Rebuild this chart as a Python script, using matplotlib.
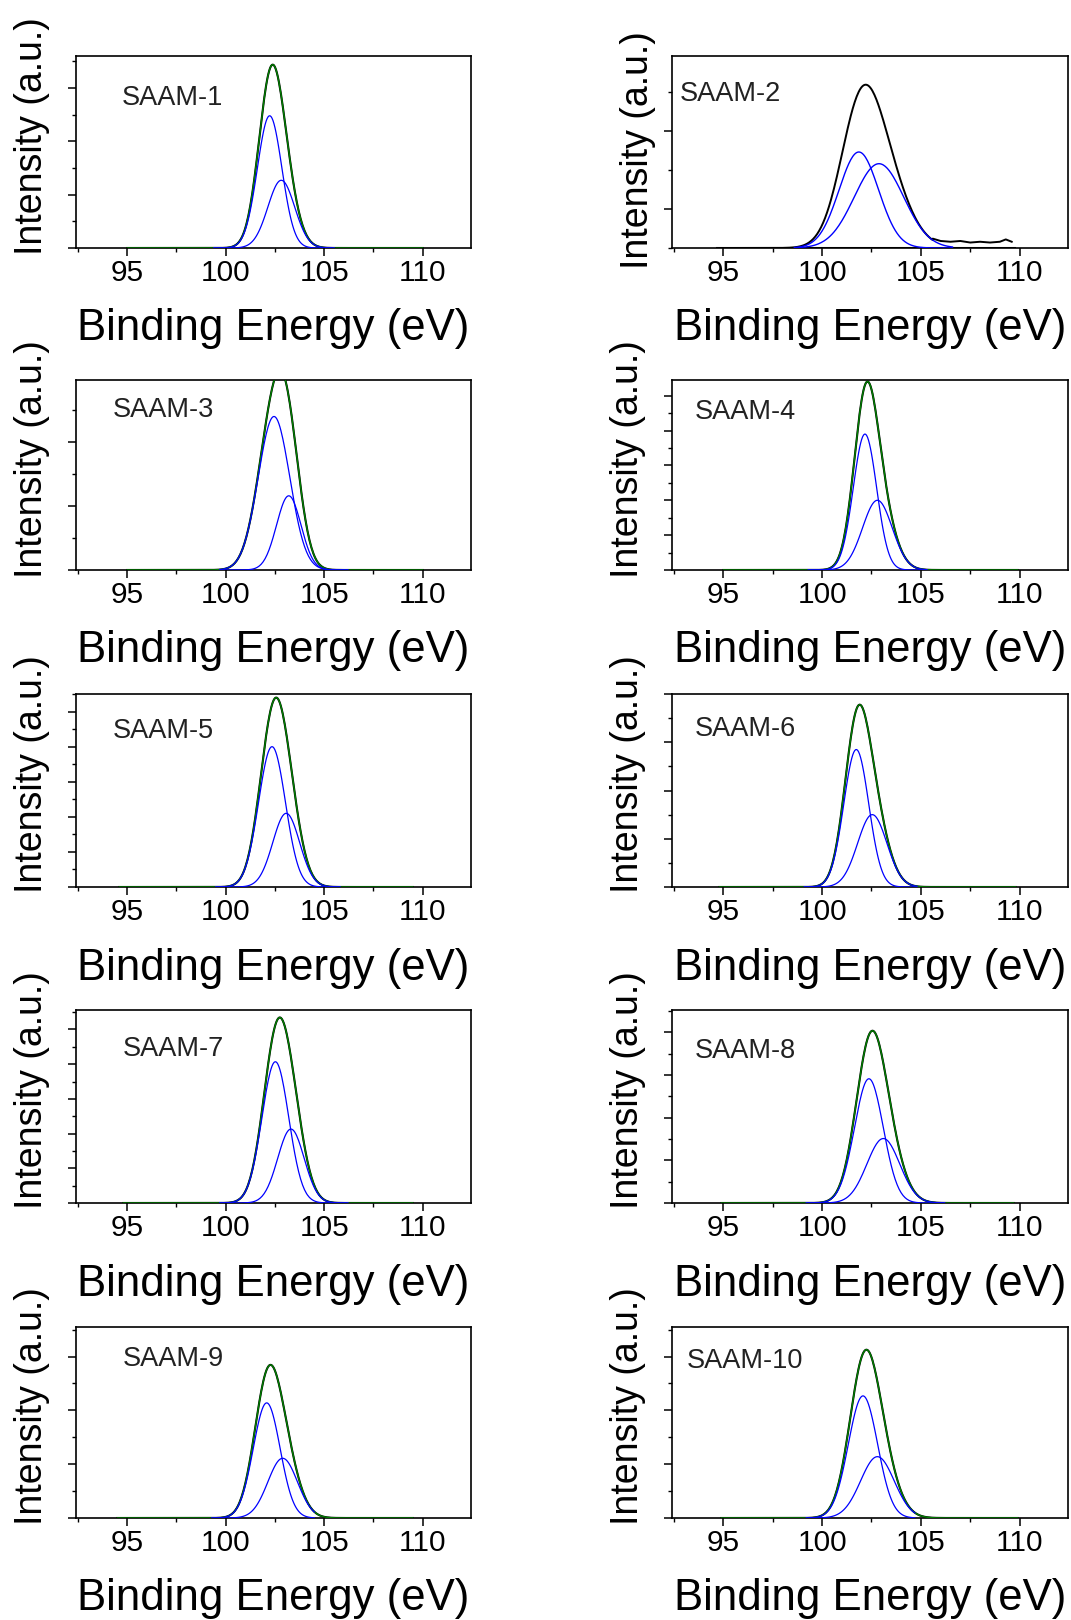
import numpy as np
import matplotlib.pyplot as plt
from matplotlib.ticker import MultipleLocator

plt.rcParams['font.family'] = ['Liberation Sans', 'DejaVu Sans']

# Si 2p fits for each sample
samples = ["SAAM-1", "SAAM-2", "SAAM-3", "SAAM-4", "SAAM-5",
           "SAAM-6", "SAAM-7", "SAAM-8", "SAAM-9", "SAAM-10"]

# lower binding energy component (centre eV, height, gaussian sigma eV)
peak1_center = [102.23, 101.86, 102.45, 102.17, 102.35, 101.73, 102.52, 102.37, 102.08, 102.07]
peak1_height = [2.48, 1.23, 2.40, 3.90, 4.00, 2.85, 4.07, 2.91, 2.14, 2.27]
peak1_sigma = [0.62, 1.00, 0.80, 0.59, 0.68, 0.63, 0.68, 0.73, 0.68, 0.74]

# higher binding energy component
peak2_center = [102.82, 102.88, 103.20, 102.80, 103.07, 102.54, 103.31, 103.10, 102.89, 102.80]
peak2_height = [1.27, 1.08, 1.16, 2.00, 2.10, 1.50, 2.13, 1.51, 1.11, 1.14]
peak2_sigma = [0.68, 1.25, 0.62, 0.75, 0.68, 0.74, 0.67, 0.83, 0.75, 0.85]

# energy ranges of the scan and of the fit
scan_lo = [95.0, 94.7, 95.0, 95.0, 94.6, 94.8, 94.8, 94.9, 94.5, 94.9]
scan_hi = [110.0, 109.7, 110.0, 109.9, 109.5, 109.8, 109.5, 109.7, 109.5, 109.9]
fit_lo = [99.4, 98.6, 99.7, 99.3, 99.5, 99.1, 99.7, 99.2, 99.3, 99.2]
fit_hi = [105.5, 106.6, 106.2, 105.3, 105.8, 104.8, 106.2, 106.2, 104.5, 104.7]

# intensity axis limits (arbitrary units)
y_bottom = [0, 0.5, 0, 0, 0, 0, 0, 0, 0, 0]
y_top = [3.6, 2.96, 2.97, 5.45, 5.5, 4.0, 5.56, 4.52, 3.55, 3.55]

# SAAM-2 raw data tail above the fit (eV, intensity above baseline)
tail_energy = [105.6, 106.0, 106.5, 107.0, 107.5, 108.0, 108.5, 109.0, 109.3, 109.6]
tail_counts = [0.12, 0.09, 0.08, 0.09, 0.07, 0.08, 0.07, 0.08, 0.11, 0.08]

xticks = [95, 100, 105, 110]

# where the sample name sits inside each panel (axes fraction)
label_x = [0.116, 0.02, 0.094, 0.058, 0.094, 0.058, 0.119, 0.058, 0.119, 0.038]
label_y = [0.78, 0.80, 0.84, 0.83, 0.81, 0.82, 0.80, 0.79, 0.83, 0.82]

row_px = [(56, 248), (380, 570), (694, 887), (1010, 1203), (1327, 1518)]
col_px = [(76, 471), (672, 1068)]
W, H = 1071, 1620


def gauss(x, c, h, s):
    return h * np.exp(-(x - c) ** 2 / (2 * s ** 2))


fig = plt.figure(figsize=(W / 100, H / 100), dpi=100)

for i, name in enumerate(samples):
    row, col = i // 2, i % 2
    top, bot = row_px[row]
    left, right = col_px[col]
    ax = fig.add_axes([left / W, 1 - bot / H, (right - left) / W, (bot - top) / H])

    base = y_bottom[i]
    e = np.arange(scan_lo[i], scan_hi[i] + 0.001, 0.05)
    ef = np.arange(fit_lo[i], fit_hi[i] + 0.001, 0.05)
    g1 = gauss(ef, peak1_center[i], peak1_height[i], peak1_sigma[i])
    g2 = gauss(ef, peak2_center[i], peak2_height[i], peak2_sigma[i])
    total = gauss(e, peak1_center[i], peak1_height[i], peak1_sigma[i]) + \
        gauss(e, peak2_center[i], peak2_height[i], peak2_sigma[i])

    if i == 1:
        # SAAM-2 has only the raw data (black) plus background line
        ax.plot([scan_lo[i], scan_hi[i]], [base, base], color='black', lw=2.2, zorder=2)
        keep = e < tail_energy[0]
        data_x = np.concatenate([e[keep], tail_energy])
        data_y = np.concatenate([total[keep], tail_counts]) + base
        ax.plot(data_x, data_y, color='black', lw=1.4, zorder=3)
        ax.plot(ef, g1 + base, color='#0000ff', lw=1.0, zorder=4)
        ax.plot(ef, g2 + base, color='#0000ff', lw=1.0, zorder=4)
    else:
        ax.plot(e, total + base, color='black', lw=1.5, zorder=2)
        ax.plot(e, total + base, color='#008000', lw=1.0, zorder=3)
        ax.plot(ef, g1 + base, color='#0000ff', lw=0.9, zorder=4)
        ax.plot(ef, g2 + base, color='#0000ff', lw=0.9, zorder=4)

    ax.set_xlim(92.4, 112.45)
    ax.set_ylim(base, y_top[i])
    ax.set_xticks(xticks)
    ax.xaxis.set_minor_locator(MultipleLocator(2.5))
    ax.yaxis.set_major_locator(MultipleLocator(1))
    ax.yaxis.set_minor_locator(MultipleLocator(0.5))
    ax.set_yticklabels([])
    ax.tick_params(axis='both', which='major', direction='out', length=6, width=1.1,
                   labelsize=21.5, pad=2)
    ax.tick_params(axis='both', which='minor', direction='out', length=3, width=1.0)
    for sp in ax.spines.values():
        sp.set_linewidth(1.2)

    ax.set_xlabel("Binding Energy (eV)", fontsize=31.5)
    ax.xaxis.set_label_coords(0.5, -0.315)
    ax.xaxis.label.set_va('top')

    if i == 1:
        ylx, yly = -34 / 396, 0.51
    else:
        ylx, yly = -44 / 395, 0.584
    ax.text(ylx, yly, "Intensity (a.u.)", transform=ax.transAxes, rotation=90,
            ha='center', va='center', fontsize=27)

    ax.text(label_x[i], label_y[i], name, transform=ax.transAxes, ha='left', va='center',
            fontsize=19.5, color='#222222')

fig.savefig("out.png", dpi=100)
